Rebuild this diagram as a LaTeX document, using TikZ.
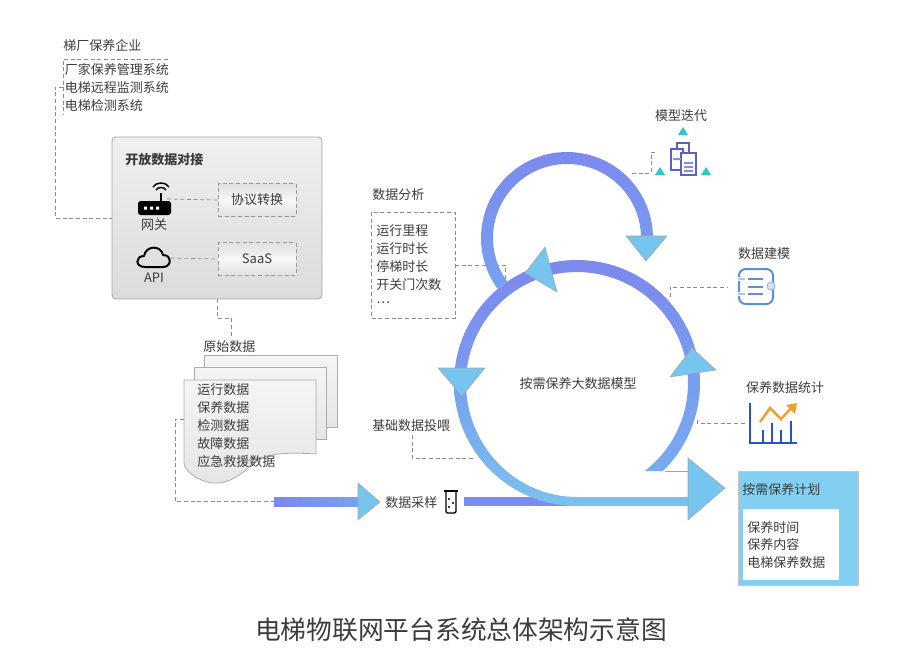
\documentclass[tikz,border=0pt]{standalone}
\usepackage{fontspec}
\setmainfont{Noto Sans CJK SC}
\definecolor{txtgray}{HTML}{3C3C3C}
\definecolor{ringtop}{HTML}{7C88EE}
\definecolor{ringmid}{HTML}{76A2F0}
\definecolor{ringlow}{HTML}{7CC0EE}
\definecolor{headblue}{HTML}{76C5EE}
\definecolor{planblue}{HTML}{82CFF2}
\definecolor{dashgray}{HTML}{8C8C8C}
\definecolor{docpurple}{HTML}{5A60C4}
\definecolor{tealmark}{HTML}{2FC8C8}
\definecolor{modelblue}{HTML}{5B8FD8}
\definecolor{chartblue}{HTML}{2458C0}
\definecolor{chartorange}{HTML}{F0A030}
\tikzstyle{txt}=[anchor=west, inner sep=0, text=txtgray, font=\fontsize{9.75}{11}\selectfont, shift={(0,-1)}]
\tikzstyle{ctxt}=[txt, anchor=center]
\tikzstyle{dashline}=[dashgray, line width=.5pt, dash pattern=on 3pt off 2pt]
\tikzstyle{docpage}=[draw=gray!65, line width=.6pt, top color=black!4, bottom color=black!10]
\tikzstyle{head}=[draw=gray!70, line width=.4pt, fill=headblue]
\tikzstyle{bandup}=[top color=ringtop, bottom color=ringmid]
\tikzstyle{protobox}=[draw=gray!80, line width=.5pt, dash pattern=on 3pt off 2pt, minimum width=58.5pt, minimum height=24.5pt, inner sep=0,
  top color=black!12, bottom color=black!12, middle color=black!3, text=txtgray, font=\fontsize{9.75}{11}\selectfont]
\tikzstyle{tealtri}=[fill=tealmark]
\newcommand{\drawrouter}{
  \fill[black, rounded corners=2] (138,201) rectangle (171,215);
  \fill[white] (144,206.5) rectangle (147,209.5) (150,206.5) rectangle (153,209.5) (156,206.5) rectangle (159,209.5);
  \draw[black, line width=1.5pt] (161,201) -- (161,193);
  \draw[black, line width=1.1pt] (156,190) to[out=-60, in=240] (166,190);
  \draw[black, line width=1.1pt] (153,187) to[out=-60, in=240] (169,187);
}
\newcommand{\drawcloud}{
  \draw[black, line width=1.5pt, line join=round] (145,267) -- (163,267) .. controls (172,267) and (172,255) .. (163,255)
    .. controls (161,245) and (146,245) .. (144,256) .. controls (135,256) and (135,267) .. (145,267) -- cycle;
}
\newcommand{\drawtube}{
  \draw[black, line width=1.1pt, rounded corners=1] (446,492) -- (446,513) -- (456,513) -- (456,492);
  \draw[black, line width=1.5pt] (444,491) -- (458,491);
  \fill[black] (449,499) circle (1.2) (453,503) circle (1.2) (449,507) circle (1.2);
}
\newcommand{\drawpapers}{
  \draw[docpurple, line width=1.1pt, fill=white] (677,143) rectangle (689,153);
  \draw[docpurple, line width=1.1pt, fill=white] (671,149) rectangle (683,170);
  \draw[docpurple, line width=1.1pt, fill=white] (681,153) rectangle (696,175);
  \fill[docpurple!70] (673,158) rectangle (681,160) (684,162) rectangle (693,164) (684,166) rectangle (693,168) (684,170) rectangle (693,172);
  \fill[tealtri] (683,127) -- (688,135) -- (678,135) -- cycle;
  \fill[tealtri] (660,167) -- (665,175) -- (655,175) -- cycle;
  \fill[tealtri] (706,167) -- (711,175) -- (701,175) -- cycle;
}
\newcommand{\drawmodelicon}{
  \draw[modelblue, line width=1.5pt, rounded corners=5] (739,269) rectangle (773,304);
  \draw[white, line width=2.5pt] (738,279) -- (745,279) (738,294) -- (745,294);
  \draw[modelblue!50, line width=.8pt] (738,279) -- (745,279) (738,294) -- (745,294);
  \draw[modelblue, line width=1.4pt] (748,279) -- (763,279) (748,287) -- (763,287) (748,294) -- (763,294);
  \draw[modelblue!60, line width=.8pt, fill=modelblue!25] (771,286) circle (4);
}
\newcommand{\drawchart}{
  \draw[chartblue, line width=1.8pt] (750,403) -- (750,443) -- (797,443);
  \draw[chartblue, line width=1.5pt] (763,443) -- (763,430) (772,443) -- (772,423) (781,443) -- (781,430) (791,443) -- (791,421);
  \draw[chartorange, line width=1.9pt] (760,422) -- (770,408) -- (781,419) -- (792,407);
  \fill[chartorange] (797,403) -- (786,405) -- (795,414) -- cycle;
}

\begin{document}
\begin{tikzpicture}[x=.75pt, y=.75pt, yscale=-1]
  \useasboundingbox (0,0) rectangle (907,662);

  % upper left
  \node[txt] (P0) at (63,45) {梯厂保养企业};
  \node[txt] (P1) at (64.5,69) {厂家保养管理系统};
  \node[txt] (P2) at (64.5,87) {电梯远程监测系统};
  \node[txt] (P3) at (64.5,105) {电梯检测系统};
  \coordinate (F1) at (168,59);
  \coordinate (F2) at (63,59);
  \coordinate (F3) at (63,115);
  \coordinate (F4) at (63,87);
  \coordinate (F5) at (55,87);
  \draw[dashline] (F1) -- (F2) -- (F3);

  \node[draw=gray!70, line width=.6pt, rounded corners=3, minimum width=157.5pt, minimum height=121.5pt, inner sep=0,
    top color=black!6, bottom color=black!14] (OPEN) at (217,218) {};
  \coordinate (O1) at (112,218);
  \coordinate (O2) at (217,299);
  \coordinate (O3) at (217,318);
  \coordinate (O4) at (231,336);
  \draw[dashline] (F4) -- (F5) |- (O1);
  \node[txt, font=\fontsize{9.75}{11}\selectfont\bfseries] (OT) at (125,159) {开放数据对接};
  \node[protobox] (PR) at (257,200) {协议转换};
  \node[protobox] (SA) at (257,259) {SaaS};
  \drawrouter
  \drawcloud
  \node[ctxt] (GW) at (154,224) {网关};
  \node[ctxt] (AP) at (154,277) {API};
  \coordinate (G1) at (167,199);
  \coordinate (C1) at (171,258);
  \draw[dashline] (G1) -- (PR.west);
  \draw[dashline] (C1) -- (SA.west);
  \draw[dashline] (O2) -- (O3) -| (O4);

  % raw data pages
  \node[txt] (RD) at (203,346) {原始数据};
  \draw[docpage] (204,355) rectangle (337,427);
  \draw[docpage] (194,367) rectangle (326,439);
  \draw[docpage] (184,380) -- (316,380) -- (316,454) .. controls (285,452) and (262,453) .. (250,466)
    .. controls (238,478) and (225,484) .. (214,483) .. controls (198,482) and (184,470) .. (184,463) -- cycle;
  \node[txt] (R1) at (197,389) {运行数据};
  \node[txt] (R2) at (197,407) {保养数据};
  \node[txt] (R3) at (197,425) {检测数据};
  \node[txt] (R4) at (197,443) {故障数据};
  \node[txt] (R5) at (197,461) {应急救援数据};
  \coordinate (D1) at (184,419);
  \coordinate (D2) at (175,419);
  \coordinate (D3) at (274,501);
  \draw[dashline] (D1) -- (D2) |- (D3);

  % analysis list
  \node[txt] (AT) at (372,194) {数据分析};
  \draw[dashline] (371,212) rectangle (455,318);
  \node[txt] (A1) at (376,230) {运行里程};
  \node[txt] (A2) at (376,248) {运行时长};
  \node[txt] (A3) at (376,266) {停梯时长};
  \node[txt] (A4) at (376,284) {开关门次数};
  \node[txt] (A5) at (376,302) {…};
  \coordinate (A6) at (455,265);
  \coordinate (A7) at (505,280);
  \draw[dashline] (A6) -| (A7);

  % sampling band
  \shade[left color=ringtop, right color=ringmid] (274,497) rectangle (358,506);
  \draw[head] (358,483) -- (380,502) -- (358,520) -- cycle;
  \node[txt] (SP) at (385,502) {数据采样};
  \drawtube
  \fill[ringtop!90!ringmid] (464,497) rectangle (575,506);

  % loops
  \begin{scope}[shift={(567,238)}]
    \shade[bandup] (144:86) arc[start angle=144, end angle=360, radius=86] -- (0:74) arc[start angle=360, end angle=144, radius=74] -- cycle;
  \end{scope}
  \begin{scope}[shift={(577,383)}]
    \shade[top color=ringtop, bottom color=ringmid!70!ringlow]
      (180:123) arc[start angle=180, end angle=405.7, radius=123] -- (412.5:111) arc[start angle=412.5, end angle=180, radius=111] -- cycle;
    \shade[top color=ringmid, bottom color=ringlow]
      (180:123) arc[start angle=180, end angle=90, radius=123] -- (111,123) -- (111,114) -- (0,114)
      arc[start angle=90, end angle=180, x radius=111, y radius=114] -- cycle;
  \end{scope}
  \coordinate (H1) at (665,471);
  \coordinate (H2) at (688,471);
  \draw[gray!70, line width=.5pt] (H1) -- (H2);
  \draw[head] (626,236) -- (667,236) -- (646,261) -- cycle;
  \draw[head] (545,247) -- (557,292) -- (525,273) -- cycle;
  \draw[head] (438,368) -- (485,368) -- (462,396) -- cycle;
  \draw[head] (670,377) -- (716,370) -- (692,348) -- cycle;
  \draw[head] (688,458) -- (725,488) -- (688,520) -- cycle;
  \node[ctxt] (MD) at (578,383) {按需保养大数据模型};

  % base data
  \node[ctxt] (BD) at (411,425) {基础数据投喂};
  \coordinate (B1) at (412,435);
  \coordinate (B2) at (473,458);
  \draw[dashline] (B1) |- (B2);

  % right side
  \node[ctxt] (MI) at (681,115) {模型迭代};
  \drawpapers
  \coordinate (M1) at (632,173);
  \coordinate (M2) at (651,173);
  \coordinate (M3) at (656,152);
  \draw[dashline] (M1) -- (M2) |- (M3);
  \node[ctxt] (MB) at (764,253) {数据建模};
  \drawmodelicon
  \coordinate (J1) at (670,297);
  \coordinate (J2) at (728,287);
  \draw[dashline] (J1) |- (J2);
  \node[ctxt] (ST) at (785,387) {保养数据统计};
  \drawchart
  \coordinate (T1) at (697,420);
  \coordinate (T2) at (747,423);
  \draw[dashline] (T1) |- (T2);

  % plan
  \node[draw=gray!45, line width=.4pt, fill=planblue, minimum width=90pt, minimum height=85.5pt, inner sep=0] (PL) at (798,528) {};
  \node[fill=white, draw=white, minimum width=71.25pt, minimum height=52.5pt, inner sep=0] (PW) at (790.5,544) {};
  \node[txt] (PT) at (742,489) {按需保养计划};
  \node[txt] (L1) at (747,527) {保养时间};
  \node[txt] (L2) at (747,544) {保养内容};
  \node[txt] (L3) at (747,562) {电梯保养数据};

  \node[inner sep=0, text=txtgray, font=\fontsize{19.3}{22}\selectfont] (TT) at (461,630) {电梯物联网平台系统总体架构示意图};
\end{tikzpicture}
\end{document}
